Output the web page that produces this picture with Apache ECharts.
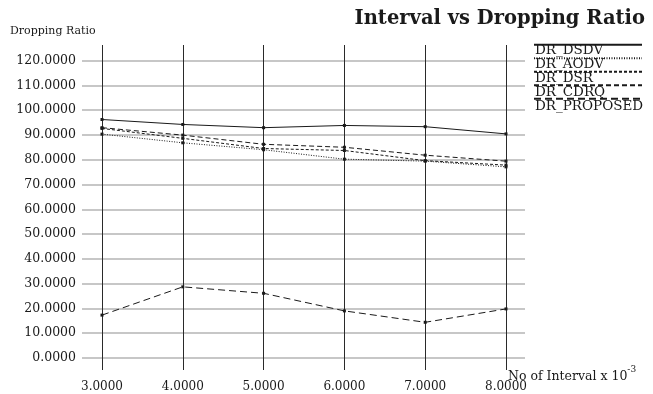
<!DOCTYPE html>
<html>
<head>
<meta charset="utf-8">
<script src="https://cdn.jsdelivr.net/npm/echarts@6/dist/echarts.min.js"></script>
<style>html,body{margin:0;padding:0;background:#fff;}#c{width:653px;height:394px;}</style>
</head>
<body>
<div id="c"></div>
<script>
const intervals = [3, 4, 5, 6, 7, 8];
const seriesNames = ['DR_DSDV', 'DR_AODV', 'DR_DSR', 'DR_CDRQ', 'DR_PROPOSED'];
const drDSDV = [96.2, 94.2, 92.9, 93.8, 93.3, 90.4];
const drAODV = [90.3, 86.8, 84.0, 80.2, 79.4, 77.1];
const drDSR = [92.6, 88.6, 84.5, 83.7, 79.6, 77.8];
const drCDRQ = [92.9, 89.9, 86.2, 85.0, 81.8, 79.4];
const drPROPOSED = [17.3, 28.7, 26.1, 19.0, 14.4, 19.8];
const yTicks = { min: 0, max: 120, interval: 10 };

const FONT = 'DejaVu Serif';
const INK = '#1a1a1a';
const dashes = [null, [1, 1.5], [3, 2], [5, 3], [7, 4]];
const allData = [drDSDV, drAODV, drDSR, drCDRQ, drPROPOSED];

const chart = echarts.init(document.getElementById('c'));
const series = seriesNames.map((name, k) => ({
  name: name,
  type: 'line',
  xAxisIndex: 0,
  yAxisIndex: 0,
  data: intervals.map((x, i) => [x, allData[k][i]]),
  symbol: 'rect',
  symbolSize: 3,
  showSymbol: true,
  itemStyle: { color: INK },
  lineStyle: { color: INK, width: 1, type: dashes[k] ? dashes[k] : 'solid' },
  emphasis: { disabled: true },
  animation: false,
  z: 5
}));

chart.setOption({
  animation: false,
  backgroundColor: '#fff',
  title: {
    text: 'Interval vs Dropping Ratio',
    right: 8, top: 9, padding: 0,
    textStyle: { fontFamily: FONT, fontWeight: 'bold', fontSize: 19.5, color: INK }
  },
  graphic: [
    { type: 'text', left: 10, top: 26, style: { text: 'Dropping Ratio', font: '11px "DejaVu Serif"', fill: INK } },
    { type: 'text', left: 508, top: 365, style: {
        text: '{n|No of Interval x 10}{s|-3}',
        rich: {
          n: { fontFamily: FONT, fontSize: 12.5, lineHeight: 18, verticalAlign: 'bottom', fill: INK },
          s: { fontFamily: FONT, fontSize: 9, lineHeight: 18, verticalAlign: 'top', fill: INK }
        }
    } }
  ],
  legend: [
    {
      data: seriesNames, orient: 'vertical', left: 533, top: 38, padding: 0,
      itemWidth: 108, itemHeight: 2, itemGap: 0, selectedMode: false,
      formatter: () => ' ',
      textStyle: { fontFamily: FONT, fontSize: 12, lineHeight: 13.5 },
      itemStyle: { opacity: 0 }
    },
    {
      data: seriesNames, orient: 'vertical', left: 529, top: 43.5, padding: 0,
      itemWidth: 0, itemHeight: 2, itemGap: 0, selectedMode: false,
      textStyle: { fontFamily: FONT, fontSize: 13.5, lineHeight: 13.5, color: INK },
      itemStyle: { opacity: 0 }, lineStyle: { opacity: 0 }
    }
  ],
  grid: [
    { left: 102, right: 147, top: 60.5, bottom: 36 },
    { left: 82, right: 128, top: 60.5, bottom: 36 },
    { left: 102, right: 147, top: 45, bottom: 24 }
  ],
  xAxis: [
    { gridIndex: 0, type: 'value', min: 3, max: 8, show: false },
    { gridIndex: 1, type: 'value', min: 0, max: 1, show: false },
    { gridIndex: 2, type: 'value', min: 3, max: 8, interval: 1,
      axisLine: { show: false }, axisTick: { show: false },
      splitLine: { show: true, lineStyle: { color: '#2a2a2a', width: 1 } },
      axisLabel: { formatter: v => v.toFixed(4), margin: 11, fontFamily: FONT, fontSize: 12, color: INK } }
  ],
  yAxis: [
    { gridIndex: 0, type: 'value', min: yTicks.min, max: yTicks.max, show: false },
    { gridIndex: 1, type: 'value', min: yTicks.min, max: yTicks.max, interval: yTicks.interval,
      axisLine: { show: false }, axisTick: { show: false },
      splitLine: { show: true, lineStyle: { color: '#b4b4b4', width: 1.5 } },
      axisLabel: { formatter: v => v.toFixed(4), margin: 6, fontFamily: FONT, fontSize: 12.5, color: INK } },
    { gridIndex: 2, type: 'value', min: 0, max: 1, show: false }
  ],
  series: series
});
</script>
</body>
</html>
